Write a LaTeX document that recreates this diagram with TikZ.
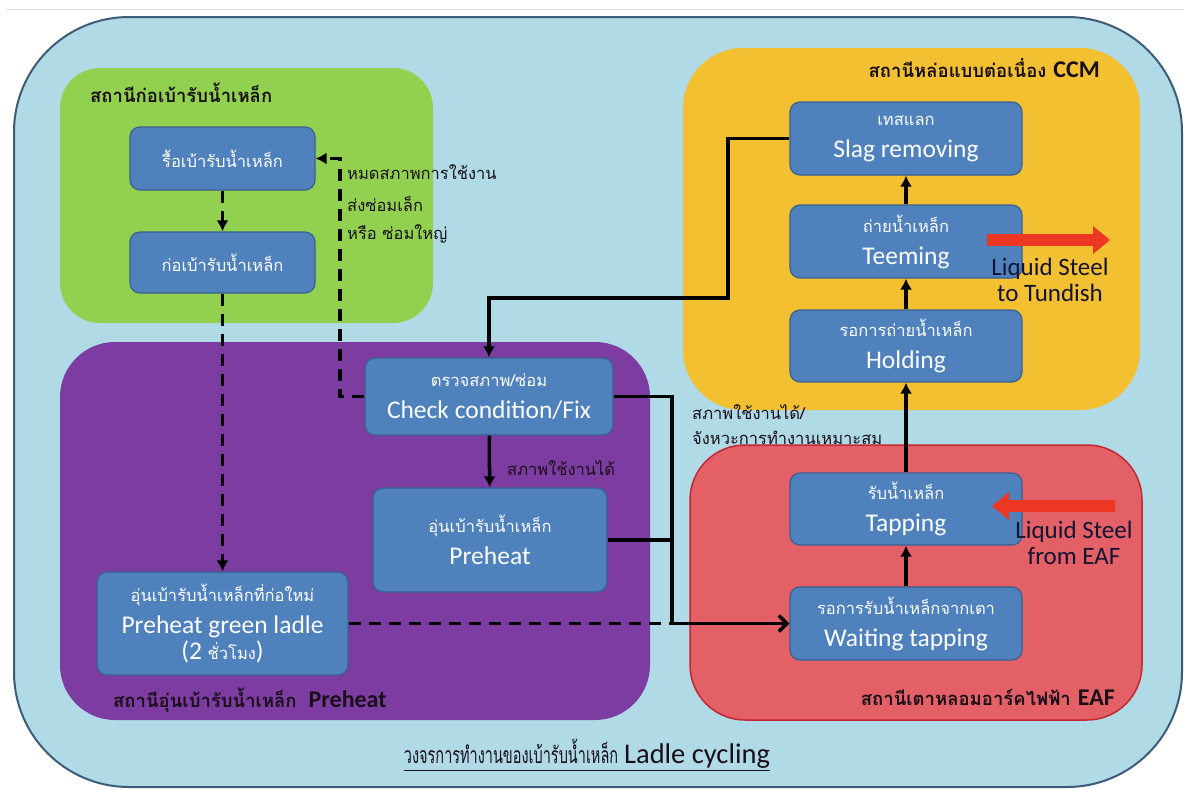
\documentclass[tikz,border=0pt]{standalone}
\usepackage{fontspec}
\usepackage{graphicx}
\setmainfont{Carlito}
\newfontfamily\thai[Script=Thai]{Loma}
\usetikzlibrary{arrows.meta}
\definecolor{bgblue}{RGB}{176,218,230}
\definecolor{framec}{RGB}{62,92,122}
\definecolor{greenreg}{RGB}{146,208,80}
\definecolor{yellowreg}{RGB}{242,192,48}
\definecolor{purplereg}{RGB}{124,60,162}
\definecolor{redreg}{RGB}{226,96,102}
\definecolor{redborder}{RGB}{196,40,50}
\definecolor{boxblue}{RGB}{79,129,189}
\definecolor{boxborder}{RGB}{58,96,142}
\definecolor{labtext}{RGB}{25,15,25}
\definecolor{steeltext}{RGB}{20,20,50}
\definecolor{arrowred}{RGB}{236,55,35}
\newcommand\thsm[1]{{\thai\fontsize{16.5}{19}\selectfont #1}}
\newcommand\thlab[1]{{\thai\bfseries\fontsize{18.5}{22}\selectfont #1}}
\begin{document}
\begin{tikzpicture}[x=1pt,y=-1pt,
  box/.style={draw=boxborder, fill=boxblue, line width=1.2, rounded corners=10,
    text=white, align=center, inner sep=0, font=\fontsize{25.5}{32}\selectfont},
  lab/.style={text=labtext, inner sep=0, anchor=west},
  note/.style={text=labtext, inner sep=0, anchor=west, font=\thai\fontsize{16.5}{19}\selectfont},
  conn/.style={line width=3.5, -{Latex[length=11pt,width=12pt]}},
  dconn/.style={conn, dash pattern=on 12pt off 8pt},
  plainline/.style={line width=3.5},
  bigarrow/.style={draw=arrowred, line width=12, -{Triangle[length=17pt,width=27pt]}},
  steel/.style={text=steeltext, align=center, inner sep=0, font=\fontsize{25}{26}\selectfont}]
\useasboundingbox (0,0) rectangle (1184,790);
\fill[white] (0,0) rectangle (1184,790);
\draw[black!12, line width=1] (6,9) -- (1184,9);
\draw[fill=bgblue, draw=framec, line width=2, rounded corners=115] (14,17) rectangle (1182,787);
% regions
\fill[greenreg, rounded corners=40] (60,68) rectangle (433,323);
\fill[yellowreg, rounded corners=60] (683,48) rectangle (1140,410);
\fill[purplereg, rounded corners=55] (60,342) rectangle (650,720);
\draw[fill=redreg, draw=redborder, line width=1.5, rounded corners=55] (690,445) rectangle (1142,720);
% region titles
\node[lab] (tgreen) at (90,93) {\thlab{สถานีก่อเบ้ารับน้ำเหล็ก}};
\node[lab, anchor=east] (tyellow) at (1100,68) {\thlab{สถานีหล่อแบบต่อเนื่อง}\hspace{7pt}\textbf{\fontsize{24}{28}\selectfont CCM}};
\node[lab] (tpurple) at (113,700) {\thlab{สถานีอุ่นเบ้ารับน้ำเหล็ก}\hspace{12pt}\textbf{\fontsize{24}{28}\selectfont Preheat}};
\node[lab, anchor=east] (tred) at (1115,697) {\thlab{สถานีเตาหลอมอาร์คไฟฟ้า}\hspace{7pt}\textbf{\fontsize{24}{28}\selectfont EAF}};
% boxes
\node[box, minimum width=185, minimum height=63] (rue) at (222.5,158.5) {\thsm{รื้อเบ้ารับน้ำเหล็ก}};
\node[box, minimum width=185, minimum height=61] (kor) at (222.5,262.5) {\thsm{ก่อเบ้ารับน้ำเหล็ก}};
\node[box, minimum width=248, minimum height=77] (check) at (489,396.5) {\thsm{ตรวจสภาพ/ซ่อม}\\Check condition/Fix};
\node[box, minimum width=234, minimum height=104] (pre) at (490,540) {\thsm{อุ่นเบ้ารับน้ำเหล็ก}\\Preheat};
\node[box, minimum width=251, minimum height=103] (pgl) at (222.5,623.5) {\thsm{อุ่นเบ้ารับน้ำเหล็กที่ก่อใหม่}\\[0pt]Preheat green ladle\\[-6pt](2 {\thsm{ชั่วโมง}})};
\node[box, minimum width=232, minimum height=73] (slag) at (906,138.5) {\thsm{เทสแลก}\\Slag removing};
\node[box, minimum width=232, minimum height=73] (teem) at (906,241.5) {\thsm{ถ่ายน้ำเหล็ก}\\Teeming};
\node[box, minimum width=232, minimum height=72] (hold) at (906,346) {\thsm{รอการถ่ายน้ำเหล็ก}\\Holding};
\node[box, minimum width=232, minimum height=72] (tap) at (906,509) {\thsm{รับน้ำเหล็ก}\\Tapping};
\node[box, minimum width=232, minimum height=73] (wait) at (906,623.5) {\thsm{รอการรับน้ำเหล็กจากเตา}\\Waiting tapping};
% notes
\node[note] (n1) at (347,172) {หมดสภาพการใช้งาน};
\node[note] (n2) at (347,204) {ส่งซ่อมเล็ก};
\node[note] (n3) at (347,234) {หรือ ซ่อมใหญ่};
\node[note] (n4) at (507,468) {สภาพใช้งานได้};
\node[note] (n5) at (692,412) {สภาพใช้งานได้/};
\node[note] (n6) at (692,438) {จังหวะการทำงานเหมาะสม};
% connector helper coordinates
\coordinate (c1) at (728,298);
\coordinate (j) at (672,623.5);
\coordinate (r) at (340,158.5);
% connectors
\draw[dconn] (rue) -- (kor);
\draw[dconn] (kor) -- (pgl);
\draw[dconn] (check.west) -| (r) -- (rue.east);
\draw[conn] (slag.west) -| (c1) -| (check.north);
\draw[conn] (check) -- (pre);
\draw[plainline] (check.east) -| (j);
\draw[plainline] (pre.east) -- (pre.east -| j);
\draw[plainline, dash pattern=on 12pt off 8pt] (pgl.east) -- (j);
\draw[plainline, -{Straight Barb[length=8pt,width=16pt]}] (j) -- (wait.west);
\draw[conn] (wait) -- (tap);
\draw[conn] (tap) -- (hold);
\draw[conn] (hold) -- (teem);
\draw[conn] (teem) -- (slag);
% liquid steel arrows
\coordinate (tA) at (987,240);
\coordinate (tB) at (1110,240);
\draw[bigarrow] (tA) -- (tB);
\node[steel] (ls1) at (1050,280) {Liquid Steel\\to Tundish};
\coordinate (eA) at (1115,506);
\coordinate (eB) at (992,506);
\draw[bigarrow] (eA) -- (eB);
\node[steel] (ls2) at (1074,543) {Liquid Steel\\from EAF};
% caption
\node[text=labtext, inner sep=0] (cap) at (587,755) {\underline{\scalebox{0.63}[1]{\thai\fontsize{23}{26}\selectfont วงจรการทำงานของเบ้ารับน้ำเหล็ก}\hspace{6pt}{\fontsize{28.5}{32}\selectfont Ladle cycling}}};
\end{tikzpicture}
\end{document}
